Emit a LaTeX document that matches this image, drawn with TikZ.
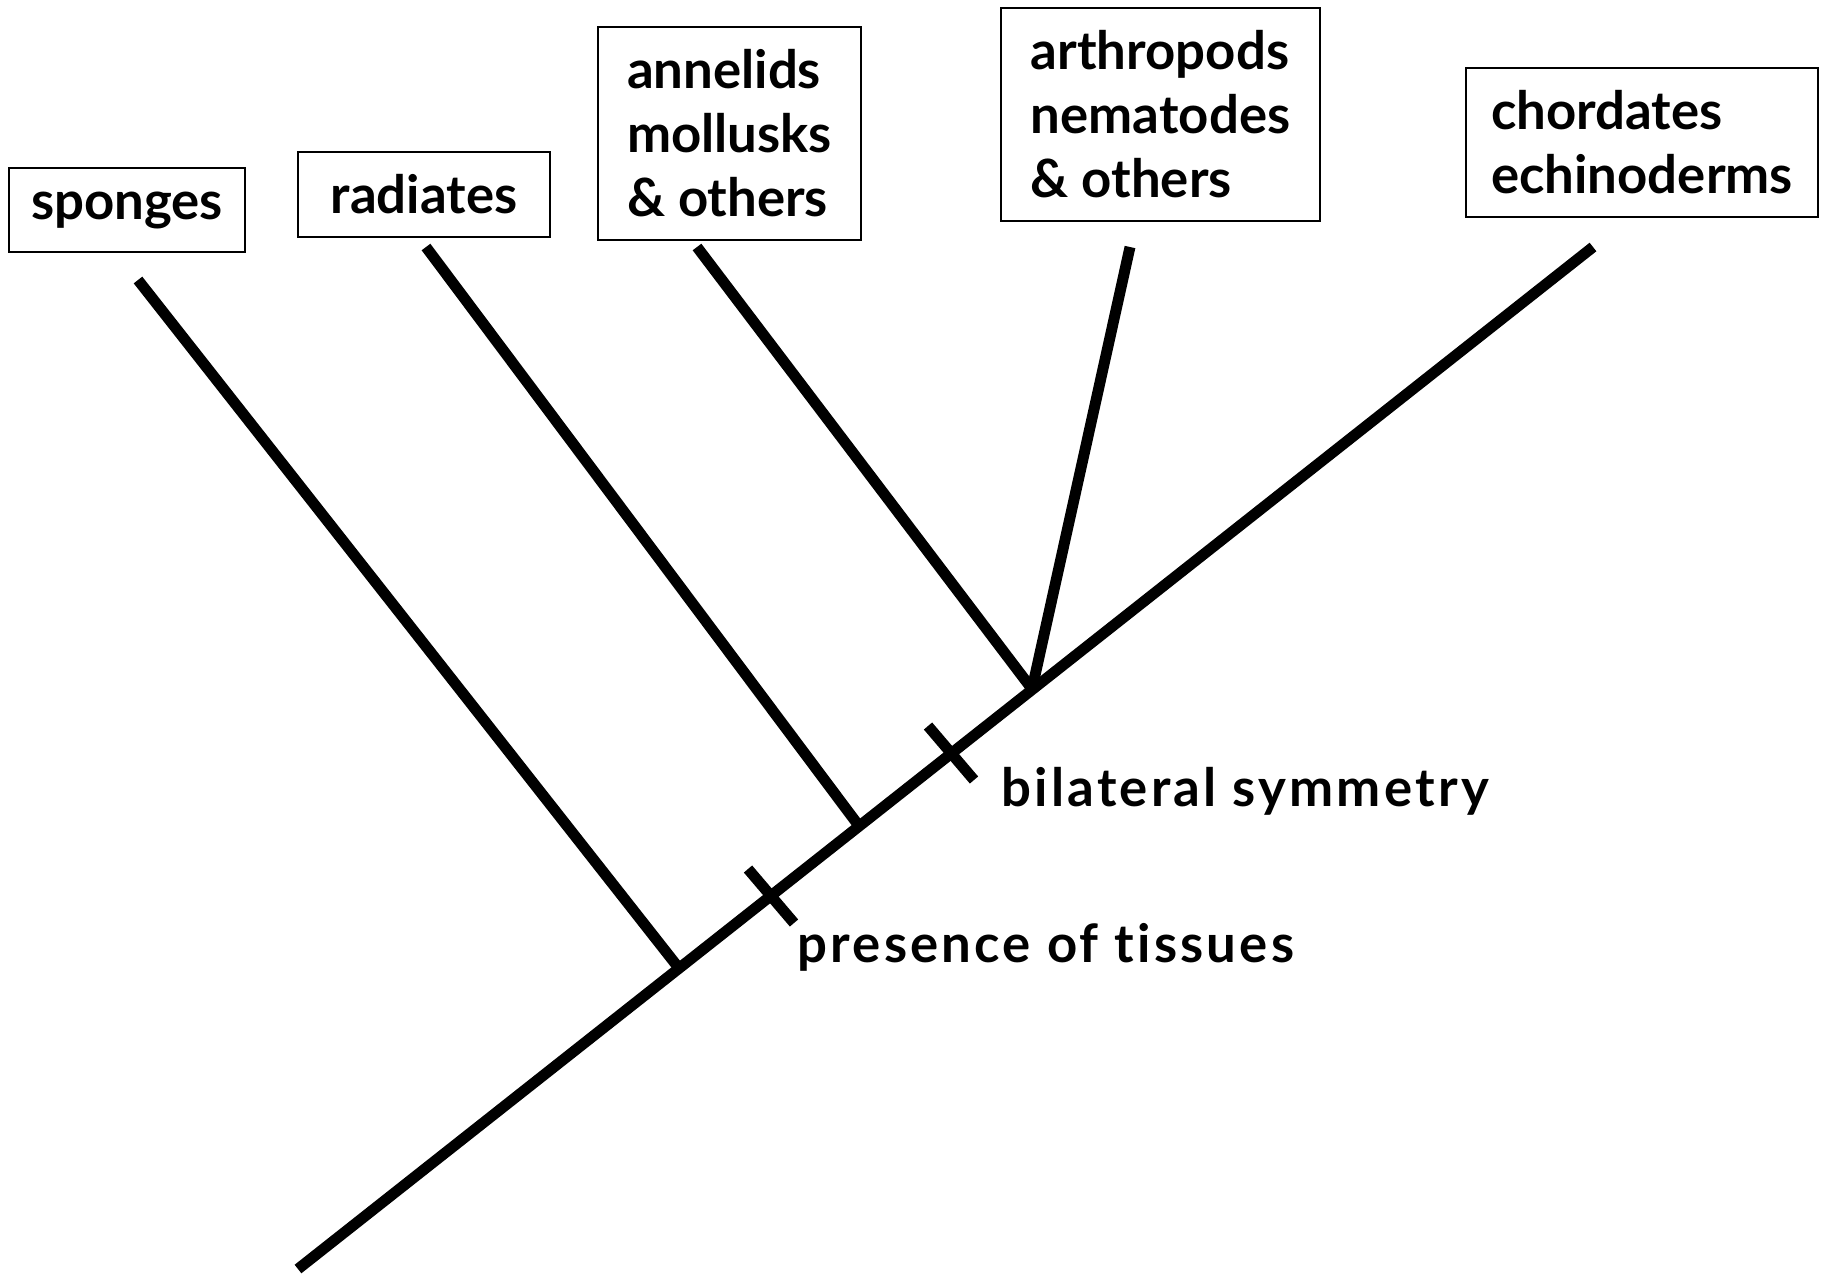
\documentclass[tikz,border=0pt]{standalone}
\usepackage{fontspec}
\setmainfont{Lato}[Ligatures={TeX,NoCommon}]
\usepackage{tikz}
\usetikzlibrary{calc}

\begin{document}
\begin{tikzpicture}[x=0.01cm,y=-0.01cm,
  every node/.style={font=\bfseries\fontsize{15}{18.2}\selectfont},
  taxon/.style={draw,line width=0.6pt,align=left,inner sep=0pt},
  trait/.style={anchor=west,inner sep=0pt,font=\bfseries\fontsize{15}{18.2}\selectfont\addfontfeature{LetterSpace=6}},
  branch/.style={line width=3.1pt}]
\useasboundingbox (0,0) rectangle (1830,1278);
% boxes
\node[taxon,minimum width=2.36cm,minimum height=0.84cm] (sp) at (127,210) {sponges};
\node[taxon,minimum width=2.52cm,minimum height=0.85cm] (ra) at (424,194.5) {radiates};
\node[taxon,minimum width=2.63cm,minimum height=2.13cm] (an) at (729.5,133.5) {annelids\\mollusks\\\& others};
\node[taxon,minimum width=3.19cm,minimum height=2.13cm] (ar) at (1160.5,114.5) {arthropods\\nematodes\\\& others};
\node[taxon,minimum width=3.52cm,minimum height=1.49cm] (ch) at (1642,142.5) {chordates\\echinoderms};
%
\coordinate (root) at (298,1269);
\coordinate (tip) at (1593,247);
\coordinate (j1) at (678,967);
\coordinate (j2) at (859,826);
\coordinate (j3) at (1032,689);
\coordinate (spt) at (138,280);
\coordinate (rat) at (426,247);
\coordinate (ant) at (697,247);
\coordinate (art) at (1130,247);
\coordinate (t1) at (771,896);
\coordinate (t2) at (951,753);
%
\draw[branch] (root) edge (tip)
              (j1) edge (spt)
              (j2) edge (rat)
              (j3) edge (ant)
              (j3) edge (art)
              ($(t1)+(-23,-27)$) edge ($(t1)+(23,27)$)
              ($(t2)+(-23,-27)$) edge ($(t2)+(23,27)$)
;
\node[trait] (bil) at (1001,791) {bilateral symmetry};
\node[trait] (tis) at (797,947) {presence of tissues};
\end{tikzpicture}
\end{document}
